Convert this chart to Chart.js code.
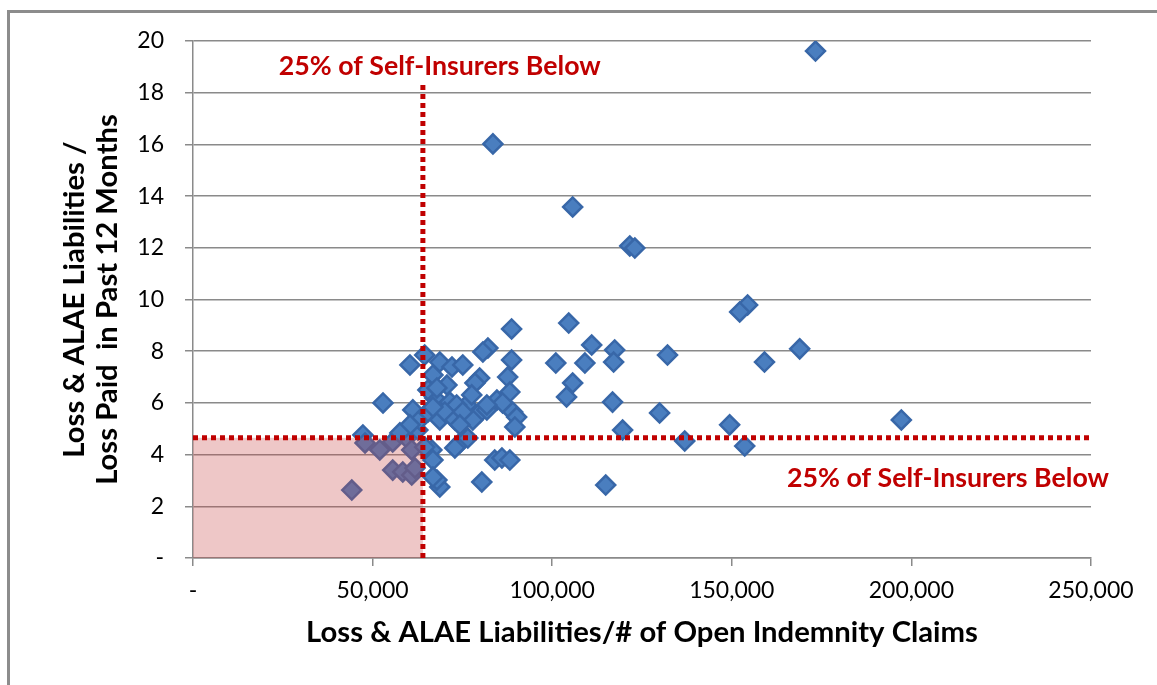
<!DOCTYPE html>
<html><head><meta charset="utf-8">
<script src="https://cdn.jsdelivr.net/npm/chart.js@4/dist/chart.umd.min.js"></script>
<style>
html,body{margin:0;padding:0;background:#fff;width:1157px;height:685px;overflow:hidden;}
#frame{position:absolute;left:7px;top:10px;width:1170px;height:700px;border-left:3px solid #8c8c8c;border-top:3px solid #8c8c8c;}
#wrap{position:absolute;left:0;top:0;width:1157px;height:685px;}
</style></head><body>
<div id="frame"></div>
<div id="wrap"><canvas id="c" width="1157" height="685"></canvas></div>
<script>
// ---- data ----
const xValues = [173300,83500,105700,121600,123000,154400,152200,168900,159100,197200,149400,153600,114900,
  104600,111000,117400,117100,101000,109100,132100,105700,104000,116800,129900,119600,136900,
  88700,82100,80700,88700,60400,64500,68700,72100,75100,66800,52900,70700,67300,71500,61200,
  79800,78500,87600,88200,84600,76200,89000,73400,79800,77900,90100,89600,68700,74300,76500,
  72900,84000,86000,88200,66500,80400,68700,67900,47300,47900,52000,55600,59500,60900,62600,
  63100,55600,58400,60900,61800,44200,64500,66800,66800,65400,70100,72900,75100,81800,86200,
  77600,60400,57600,66800,65400,67900,81800,74300];
const yValues = [19.61,16.02,13.58,12.07,11.99,9.79,9.52,8.09,7.58,5.34,5.15,4.33,2.82,
  9.09,8.24,8.05,7.58,7.54,7.54,7.85,6.77,6.23,6.03,5.61,4.95,4.53,
  8.86,8.12,7.97,7.66,7.47,7.85,7.58,7.39,7.47,7.08,6.00,6.69,6.19,6.03,5.73,
  6.96,6.77,7.00,6.42,6.11,5.92,5.65,5.92,5.61,5.34,5.45,5.07,5.34,4.45,4.64,
  4.26,3.79,3.87,3.79,4.18,2.94,2.75,3.02,4.76,4.45,4.18,4.49,4.64,4.18,4.95,
  5.34,3.40,3.33,3.21,3.48,2.63,4.29,3.79,3.13,5.65,5.65,5.34,5.65,5.73,6.00,
  6.31,5.15,4.84,5.84,6.50,6.58,5.92,5.15];
const xTickLabels = ['-','50,000','100,000','150,000','200,000','250,000'];
const yTickLabels = ['-','2','4','6','8','10','12','14','16','18','20'];
const xTitle = 'Loss & ALAE Liabilities/# of Open Indemnity Claims';
const yTitle = ['Loss & ALAE Liabilities /', 'Loss Paid  in Past 12 Months'];
const annotationText = '25% of Self-Insurers Below';
const xThreshold = 64000;      // 25th percentile of x
const yThreshold = 4.65;       // 25th percentile of y
const vLineTop = 18.3;
const topLabelPos = [68700, 19.03];
const rightLabelPos = [210200, 3.09];

// ---- font sizing helper ----
const FAMILY = 'Lato';
const mctx = document.createElement('canvas').getContext('2d');
function fit(text, weight, target){ mctx.font = weight+' 100px '+FAMILY; return 100*target/mctx.measureText(text).width; }
const titleSize = fit(xTitle, 'bold', 672);
const tickSize = fit('50,000', 'normal', 72);
const annSize = fit(annotationText, 'bold', 322);

const RED = '#C00000';
const GRID = '#8a8a8a';

const overlay = {
  id: 'overlay',
  afterDatasetsDraw(chart){
    const {ctx, scales:{x, y}} = chart;
    const x0 = x.getPixelForValue(0), xt = x.getPixelForValue(xThreshold), xEnd = x.getPixelForValue(x.max);
    const y0 = y.getPixelForValue(0), yt = y.getPixelForValue(yThreshold), yTop = y.getPixelForValue(vLineTop);
    ctx.save();
    ctx.fillStyle = 'rgba(200,70,70,0.3)';
    ctx.fillRect(x0, yt, xt - x0, y0 - yt);
    ctx.strokeStyle = RED; ctx.lineWidth = 5; ctx.setLineDash([5,4]);
    ctx.beginPath(); ctx.moveTo(x0, yt); ctx.lineTo(xEnd, yt); ctx.stroke();
    ctx.beginPath(); ctx.moveTo(xt, yTop); ctx.lineTo(xt, y0); ctx.stroke();
    ctx.setLineDash([]);
    ctx.fillStyle = RED;
    ctx.font = 'bold ' + annSize + 'px ' + FAMILY;
    ctx.textAlign = 'center'; ctx.textBaseline = 'middle';
    ctx.fillText(annotationText, x.getPixelForValue(topLabelPos[0]), y.getPixelForValue(topLabelPos[1]));
    ctx.fillText(annotationText, x.getPixelForValue(rightLabelPos[0]), y.getPixelForValue(rightLabelPos[1]));
    ctx.restore();
  }
};

new Chart(document.getElementById('c'), {
  type: 'scatter',
  data: { datasets: [{
    data: xValues.map((v, i) => ({x: v, y: yValues[i]})),
    pointStyle: 'rectRot', pointRadius: 9.5, pointHoverRadius: 9.5,
    backgroundColor: '#4A7EBF', borderColor: '#3867A8', borderWidth: 2.5
  }]},
  options: {
    responsive: false, animation: false, events: [],
    layout: { padding: { left: 0, right: 66, top: 41, bottom: 0 } },
    plugins: { legend: { display: false }, tooltip: { enabled: false } },
    scales: {
      x: {
        type: 'linear', min: 0, max: 250000,
        afterFit: s => { s.height = 127; },
        ticks: { stepSize: 50000, color: '#000', padding: 11, maxRotation: 0, autoSkip: false,
                 font: { family: FAMILY, size: tickSize }, callback: (v, i) => xTickLabels[i] },
        grid: { drawOnChartArea: false, drawTicks: true, tickLength: 8, color: GRID, lineWidth: 1.5 },
        border: { display: true, color: GRID, width: 1.5 },
        title: { display: true, text: xTitle, color: '#000',
                 font: { family: FAMILY, size: titleSize, weight: 'bold' }, padding: { top: 0, bottom: 35 } }
      },
      y: {
        type: 'linear', min: 0, max: 20,
        afterFit: s => { s.width = 193; },
        ticks: { stepSize: 2, color: '#000', padding: 21, autoSkip: false,
                 font: { family: FAMILY, size: tickSize }, callback: (v, i) => yTickLabels[i] },
        grid: { drawTicks: true, tickLength: 8, color: GRID, lineWidth: 1.5 },
        border: { display: true, color: GRID, width: 1.5 },
        title: { display: true, text: yTitle, color: '#000',
                 font: { family: FAMILY, size: titleSize, weight: 'bold', lineHeight: 33 / titleSize },
                 padding: { top: 58, bottom: 0 } }
      }
    }
  },
  plugins: [overlay]
});
</script>
</body></html>
